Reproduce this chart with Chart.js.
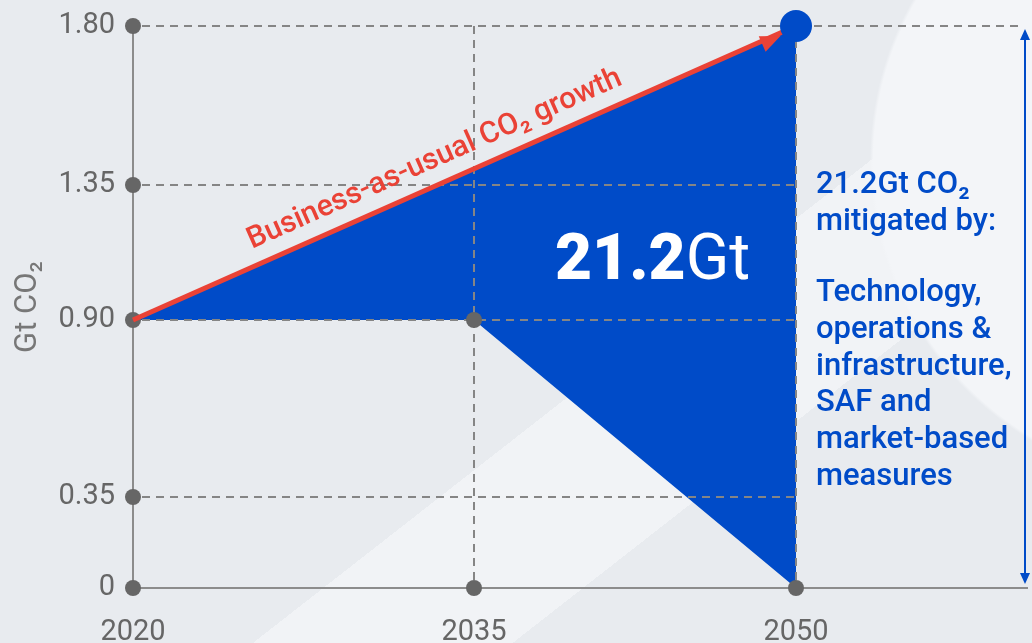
<!DOCTYPE html>
<html>
<head>
<meta charset="utf-8">
<script src="https://cdn.jsdelivr.net/npm/chart.js@4.4.1/dist/chart.umd.min.js"></script>
<style>
  html, body { margin: 0; padding: 0; }
  body {
    width: 1032px; height: 643px; overflow: hidden;
    background:
      radial-gradient(ellipse 340px 330px at 1210px 160px, #f3f5f8 0 99%, transparent 100%),
      linear-gradient(142deg, transparent 0 58%, #f1f3f6 58% 72%, transparent 72%),
      #e8ebef;
  }
  #wrap { position: relative; width: 1032px; height: 643px; }
</style>
</head>
<body>
<div id="wrap"><canvas id="chart" width="1032" height="643"></canvas></div>
<script>
// ---- data ----
const years = [2020, 2035, 2050];
const yearLabels = ['2020', '2035', '2050'];
const gtTicks = [0, 0.35, 0.90, 1.35, 1.80];
const gtTickLabels = ['0', '0.35', '0.90', '1.35', '1.80'];

// business-as-usual growth line
const bauYears = [2020, 2050];
const bauValues = [0.90, 1.80];

// mitigated wedge outline (BAU above, net path below)
const wedgeYears = [2020, 2050, 2050, 2035, 2020];
const wedgeValues = [0.90, 1.80, 0, 0.90, 0.90];

const totalLabel = '21.2';
const totalUnit = 'Gt';
const sideHead = ['21.2Gt CO\u2082', 'mitigated by:'];
const sideBody = ['Technology,', 'operations &', 'infrastructure,', 'SAF and', 'market-based', 'measures'];

const BLUE = '#004bc8';
const RED = '#ea4236';
const GREY = '#666666';

// the infographic does not space its axes evenly; map values piecewise
const axisBreaks = {
  x: { values: [2020, 2035, 2050, 2060.7], fractions: [0, 341 / 894, 663 / 894, 1] },
  y: { values: [0, 0.35, 0.90, 1.35, 1.80], fractions: [0, 91 / 562, 268 / 562, 403 / 562, 1] },
};

class PiecewiseScale extends Chart.LinearScale {
  static id = 'piecewise';
  static defaults = Chart.LinearScale.defaults;
  toDecimal(v) {
    const b = axisBreaks[this.id];
    if (v <= b.values[0]) return b.fractions[0];
    for (let i = 1; i < b.values.length; i++) {
      if (v <= b.values[i]) {
        const t = (v - b.values[i - 1]) / (b.values[i] - b.values[i - 1]);
        return b.fractions[i - 1] + t * (b.fractions[i] - b.fractions[i - 1]);
      }
    }
    return b.fractions[b.fractions.length - 1];
  }
  getPixelForValue(v) {
    if (v === null || v === undefined) return NaN;
    return this.getPixelForDecimal(this.toDecimal(v));
  }
  getValueForPixel(p) {
    const d = this.getDecimalForPixel(p);
    const b = axisBreaks[this.id];
    for (let i = 1; i < b.fractions.length; i++) {
      if (d <= b.fractions[i]) {
        const t = (d - b.fractions[i - 1]) / (b.fractions[i] - b.fractions[i - 1]);
        return b.values[i - 1] + t * (b.values[i] - b.values[i - 1]);
      }
    }
    return b.values[b.values.length - 1];
  }
}
Chart.register(PiecewiseScale);

const pts = (xs, ys) => xs.map((x, i) => ({ x, y: ys[i] }));

// grey markers on the axes and at the 2035 turning point
const markerPts = [
  ...gtTicks.map(v => ({ x: years[0], y: v })),
  ...years.slice(1).map(yr => ({ x: yr, y: 0 })),
  { x: years[1], y: gtTicks[2] },
];

function arrowHead(ctx, x, y, ang, len, wid) {
  ctx.save();
  ctx.translate(x, y);
  ctx.rotate(ang);
  ctx.beginPath();
  ctx.moveTo(0, 0);
  ctx.lineTo(-len, -wid / 2);
  ctx.lineTo(-len, wid / 2);
  ctx.closePath();
  ctx.fill();
  ctx.restore();
}

const overlay = {
  id: 'overlay',
  afterDatasetDraw(chart, args) {
    if (args.index !== 0) return;
    // dashed guides over the wedge
    const { ctx, chartArea } = chart;
    const x = chart.scales.x, y = chart.scales.y;
    const top = gtTicks[gtTicks.length - 1];
    ctx.save();
    ctx.strokeStyle = '#858585';
    ctx.lineWidth = 2;
    ctx.setLineDash([8, 6]);
    gtTicks.slice(1).forEach(v => {
      ctx.beginPath();
      ctx.moveTo(x.getPixelForValue(years[0]) + 9, y.getPixelForValue(v));
      ctx.lineTo(v === top ? chartArea.right - 8 : x.getPixelForValue(years[2]), y.getPixelForValue(v));
      ctx.stroke();
    });
    years.slice(1).forEach(yr => {
      ctx.beginPath();
      ctx.moveTo(x.getPixelForValue(yr), y.getPixelForValue(top));
      ctx.lineTo(x.getPixelForValue(yr), y.getPixelForValue(0) - 8);
      ctx.stroke();
    });
    ctx.restore();
  },
  afterDatasetsDraw(chart) {
    const { ctx, chartArea } = chart;
    const x = chart.scales.x, y = chart.scales.y;
    const x0 = x.getPixelForValue(bauYears[0]), y0 = y.getPixelForValue(bauValues[0]);
    const x1 = x.getPixelForValue(bauYears[1]), y1 = y.getPixelForValue(bauValues[1]);
    const ang = Math.atan2(y1 - y0, x1 - x0);

    // red arrow head, tip at the edge of the blue dot
    ctx.save();
    ctx.fillStyle = RED;
    arrowHead(ctx, x1 - 17 * Math.cos(ang), y1 - 17 * Math.sin(ang) + 3, ang, 20, 17);

    // label along the red line
    const t = 0.47;
    ctx.translate(x0 + t * (x1 - x0), y0 + t * (y1 - y0));
    ctx.rotate(ang);
    ctx.font = '500 30px Roboto';
    ctx.textAlign = 'center';
    ctx.textBaseline = 'alphabetic';
    ctx.fillText('Business-as-usual CO\u2082 growth', 0, -17);
    ctx.restore();

    // big total inside the wedge
    ctx.save();
    ctx.fillStyle = '#ffffff';
    ctx.textBaseline = 'alphabetic';
    const tx = x.getPixelForValue(years[1]) + 81;
    const ty = y.getPixelForValue(gtTicks[2]) - 41;
    ctx.font = '900 64px Roboto';
    ctx.fillText(totalLabel, tx, ty);
    const w = ctx.measureText(totalLabel).width;
    ctx.font = '64px Roboto';
    ctx.fillText(totalUnit, tx + w, ty);
    ctx.restore();

    // side note
    ctx.save();
    ctx.fillStyle = BLUE;
    ctx.font = '500 31px Roboto';
    const sx = x.getPixelForValue(years[2]) + 20;
    sideHead.forEach((s, i) => ctx.fillText(s, sx, 193 + i * 37));
    sideBody.forEach((s, i) => ctx.fillText(s, sx, 301 + i * 36.8));

    // double arrow spanning the full range
    const ax = chartArea.right - 2;
    const aTop = y.getPixelForValue(gtTicks[gtTicks.length - 1]) + 3;
    const aBot = y.getPixelForValue(0) - 4;
    ctx.strokeStyle = BLUE;
    ctx.lineWidth = 2;
    ctx.beginPath();
    ctx.moveTo(ax, aTop + 8);
    ctx.lineTo(ax, aBot - 8);
    ctx.stroke();
    arrowHead(ctx, ax, aTop, -Math.PI / 2, 11, 10);
    arrowHead(ctx, ax, aBot, Math.PI / 2, 11, 10);
    ctx.restore();
  },
};

new Chart(document.getElementById('chart'), {
  type: 'scatter',
  data: {
    datasets: [
      {
        type: 'line',
        data: pts(wedgeYears, wedgeValues),
        backgroundColor: BLUE,
        borderWidth: 0,
        pointRadius: 0,
        fill: 'shape',
        tension: 0,
        clip: false,
        order: 4,
      },
      {
        data: markerPts,
        backgroundColor: GREY,
        borderWidth: 0,
        pointRadius: 8,
        clip: false,
        order: 3,
      },
      {
        type: 'line',
        data: pts(bauYears, bauValues),
        borderColor: RED,
        borderWidth: 5,
        pointRadius: 0,
        fill: false,
        clip: false,
        order: 2,
      },
      {
        data: [{ x: bauYears[1], y: bauValues[1] }],
        backgroundColor: BLUE,
        borderWidth: 0,
        pointRadius: 16,
        clip: false,
        order: 1,
      },
    ],
  },
  options: {
    responsive: false,
    animation: false,
    layout: { autoPadding: false, padding: { top: 26, right: 5, left: 0, bottom: 0 } },
    plugins: { legend: { display: false }, tooltip: { enabled: false } },
    scales: {
      x: {
        type: 'piecewise',
        min: 2020,
        max: 2060.7,
        afterBuildTicks: s => { s.ticks = years.map(v => ({ value: v })); },
        afterFit: s => { s.height = 55; s.paddingLeft = 0; s.paddingRight = 0; },
        grid: { display: false, drawTicks: false },
        border: { display: true, color: '#8c8c8c', width: 2 },
        ticks: {
          padding: 27,
          color: GREY,
          font: { family: 'Roboto', size: 29 },
          maxRotation: 0,
          callback: (v, i) => yearLabels[i],
        },
      },
      y: {
        type: 'piecewise',
        min: 0,
        max: 1.8,
        afterBuildTicks: s => { s.ticks = gtTicks.map(v => ({ value: v })); },
        afterFit: s => { s.width = 133; s.paddingTop = 0; s.paddingBottom = 0; },
        grid: { display: false, drawTicks: false },
        border: { display: true, color: '#8c8c8c', width: 2 },
        ticks: {
          padding: 18,
          color: GREY,
          font: { family: 'Roboto', size: 29 },
          callback: (v, i) => gtTickLabels[i],
        },
        title: {
          display: true,
          text: 'Gt CO\u2082',
          color: '#777777',
          font: { family: 'Roboto', size: 31 },
          padding: { top: 10, bottom: 0 },
        },
      },
    },
  },
  plugins: [overlay],
});
</script>
</body>
</html>
